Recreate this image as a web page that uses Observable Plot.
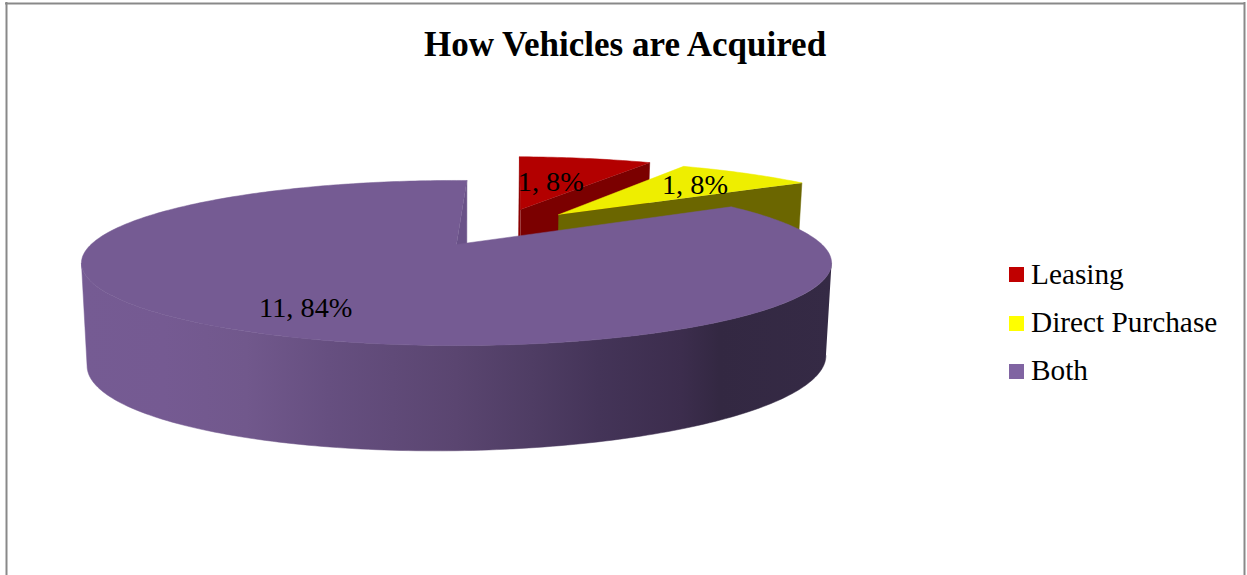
<!DOCTYPE html>
<html>
<head>
<meta charset="utf-8">
<style>
  html, body { margin: 0; padding: 0; background: #fff; overflow: hidden; }
  svg { display: block; }
</style>
<script src="https://cdn.jsdelivr.net/npm/d3@7"></script>
<script src="https://cdn.jsdelivr.net/npm/@observablehq/plot@0.6"></script>
</head>
<body>
<div id="chart"></div>
<script>
const chartTitle = "How Vehicles are Acquired";
const categories = ["Leasing", "Direct Purchase", "Both"];
const counts = [1, 1, 11];
const percents = [8, 8, 84];

const legendColors = ["#c00000", "#ffff00", "#8064a2"];
const topColors = ["#b30000", "#eeee00", "#755b93"];
const wallColors = ["#7b0000", "#6b6600", "#6a5288"];
const innerWallColors = ["#8a0000", "#6b6600", "#6a5288"];

// Pull-out of each slice on the disc, with its direction in degrees.
const explodeSize = [0.532, 0.515, 0];
const explodeDir = [21.5, 36.3, 0];
const labelRadius = [0.5, 0.688, 0.765];
const labelTurn = [-2, 0.75, -2.5];
const rotation = 2;

// Perspective of the upper and lower faces of the disc.
const perspective = 0.2243;
const upperFace = {x0: 456, y0: 244, a: 365.5, b: 78.4, tilt: 0};
const lowerFace = {x0: 456, y0: 340, a: 360, b: 85.5, tilt: 5};

const total = d3.sum(counts);
const rad = (deg) => (deg * Math.PI) / 180;

// Cumulative start and end angles, clockwise from the top.
let running = rotation;
const slices = counts.map((count, i) => {
  const start = running;
  const end = start + (count / total) * 360;
  running = end;
  return {
    i,
    start,
    end,
    du: explodeSize[i] * Math.sin(rad(explodeDir[i])),
    dv: explodeSize[i] * Math.cos(rad(explodeDir[i]))
  };
});

function project(face, u, v) {
  const w = 1 + perspective * v;
  return {x: face.x0 + (face.a * u) / w, y: face.y0 - (face.b * v + face.tilt * u) / w};
}
function rimPoint(face, s, deg, r = 1) {
  return project(face, r * Math.sin(rad(deg)) + s.du, r * Math.cos(rad(deg)) + s.dv);
}
const apex = (face, s) => project(face, s.du, s.dv);
function rim(face, s, from, to) {
  const n = Math.max(2, Math.ceil(Math.abs(to - from)));
  return d3.range(n + 1).map((k) => rimPoint(face, s, from + ((to - from) * k) / n));
}

const topFace = (s) => [apex(upperFace, s), ...rim(upperFace, s, s.start, s.end)];
const radialWall = (s, deg) => [
  apex(upperFace, s),
  rimPoint(upperFace, s, deg),
  rimPoint(lowerFace, s, deg),
  apex(lowerFace, s)
];

const polygon = (points, fill) =>
  Plot.line(points, {x: "x", y: "y", fill, stroke: fill, strokeWidth: 0.5, curve: "linear"});

const [leasing, direct, both] = slices;

// Front arc of one face, cut at the widest points of its ellipse.
function frontArc(face, s) {
  const arc = rim(face, s, 60, 300);
  return arc.slice(d3.greatestIndex(arc, (p) => p.x), d3.leastIndex(arc, (p) => p.x) + 1);
}

// Curved outer wall of the large slice, running around the front of the disc.
const frontWall = [...frontArc(upperFace, both), ...frontArc(lowerFace, both).reverse()];

const gradientDefs = () => {
  const ns = "http://www.w3.org/2000/svg";
  const defs = document.createElementNS(ns, "defs");
  const grad = document.createElementNS(ns, "linearGradient");
  grad.setAttribute("id", "wallShade");
  grad.setAttribute("x1", "0");
  grad.setAttribute("x2", "1");
  grad.setAttribute("y1", "0");
  grad.setAttribute("y2", "0");
  [
    [0, "#755b93"], [0.11, "#755a92"], [0.22, "#71588c"], [0.33, "#664f80"],
    [0.5, "#5a4570"], [0.6, "#4f3d64"], [0.69, "#443458"], [0.8, "#3c2d4d"],
    [0.85, "#332842"], [1, "#352a45"]
  ].forEach(([offset, color]) => {
    const stop = document.createElementNS(ns, "stop");
    stop.setAttribute("offset", offset);
    stop.setAttribute("stop-color", color);
    grad.appendChild(stop);
  });
  defs.appendChild(grad);
  return defs;
};

const labels = slices.map((s) => {
  const mid = (s.start + s.end) / 2 + labelTurn[s.i];
  return {
    ...rimPoint(upperFace, s, mid, labelRadius[s.i]),
    text: `${counts[s.i]}, ${percents[s.i]}%`
  };
});

const legendRows = categories.map((name, i) => ({
  name,
  color: legendColors[i],
  row: 275 + i * 48,
  swatch: Math.round(275 + i * 48.5)
}));

const serif = "'Liberation Serif', 'Times New Roman', serif";

const chart = Plot.plot({
  width: 1247,
  height: 575,
  margin: 0,
  x: {domain: [0, 1247], range: [0, 1247], axis: null},
  y: {domain: [0, 575], range: [0, 575], axis: null},
  style: {background: "#fff"},
  marks: [
    gradientDefs,
    // Chart outline: open at the bottom of the page.
    Plot.ruleX([6, 1244], {y1: 2, y2: 575, stroke: "#898989", strokeWidth: 2}),
    Plot.ruleY([3], {x1: 5, x2: 1245, stroke: "#898989", strokeWidth: 2}),

    // Slices are painted from the back of the disc forward.
    polygon(radialWall(leasing, leasing.start), innerWallColors[0]),
    polygon(radialWall(leasing, leasing.end), wallColors[0]),
    polygon(topFace(leasing), topColors[0]),
    polygon(radialWall(direct, direct.end), wallColors[1]),
    polygon(topFace(direct), topColors[1]),
    polygon(radialWall(both, both.end), wallColors[2]),
    polygon(frontWall, "url(#wallShade)"),
    polygon(topFace(both), topColors[2]),

    Plot.text(labels, {
      x: "x", y: "y", text: "text",
      fontFamily: serif, fontSize: 28.3, fill: "#000", lineAnchor: "middle"
    }),

    Plot.text([chartTitle], {
      x: () => 624.5, y: () => 44, text: (d) => d,
      fontFamily: serif, fontSize: 35, fontWeight: "bold", fill: "#000"
    }),

    Plot.rect(legendRows, {
      x1: () => 1009, x2: () => 1024,
      y1: (d) => d.swatch - 8, y2: (d) => d.swatch + 7,
      fill: "color"
    }),
    Plot.text(legendRows, {
      x: () => 1030.5, y: "row", dy: -0.5, text: "name", textAnchor: "start",
      fontFamily: serif, fontSize: 29.3, fill: "#000"
    })
  ]
});

document.getElementById("chart").appendChild(chart);
</script>
</body>
</html>
